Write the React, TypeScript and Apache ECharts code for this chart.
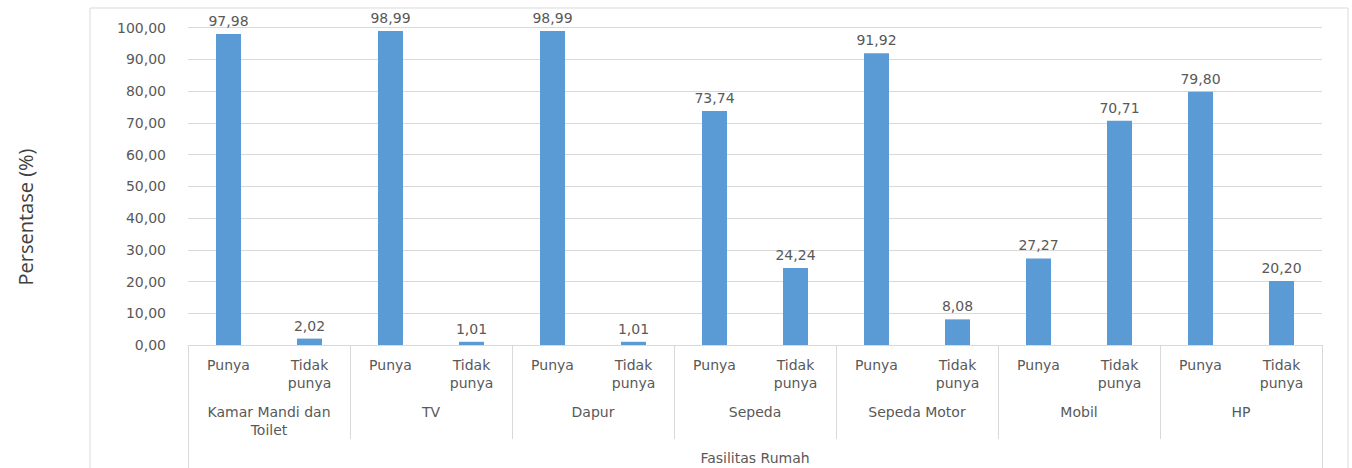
import React, { useEffect, useRef } from "react";
import * as echarts from "echarts";

// Household facilities: share of respondents who own / do not own each item
const answerLabels = [
  "Punya", "Tidak\npunya",
  "Punya", "Tidak\npunya",
  "Punya", "Tidak\npunya",
  "Punya", "Tidak\npunya",
  "Punya", "Tidak\npunya",
  "Punya", "Tidak\npunya",
  "Punya", "Tidak\npunya",
];
const facilityGroups = [
  "Kamar Mandi dan\nToilet",
  "TV",
  "Dapur",
  "Sepeda",
  "Sepeda Motor",
  "Mobil",
  "HP",
];
const axisTitle = ["Fasilitas Rumah"];
const percentages = [
  97.98, 2.02,
  98.99, 1.01,
  98.99, 1.01,
  73.74, 24.24,
  91.92, 8.08,
  27.27, 70.71,
  79.8, 20.2,
];
const yTitle = "Persentase (%)";

const fmt = (v: number) => v.toFixed(2).replace(".", ",");

const TEXT = "#595959";
const LINE = "#d9d9d9";
const FONT = "DejaVu Sans";

export default function App() {
  const ref = useRef<HTMLDivElement>(null);

  useEffect(() => {
    if (!ref.current) return;
    const chart = echarts.init(ref.current, undefined, { renderer: "svg" });
    chart.setOption({
      animation: false,
      backgroundColor: "#ffffff",
      grid: { left: 188, right: 30, top: 27.7, bottom: 123 },
      graphic: [
        {
          type: "rect",
          shape: { x: 90, y: 8, width: 1258, height: 520 },
          style: { fill: "none", stroke: LINE, lineWidth: 1 },
          silent: true,
        },
        {
          type: "text",
          x: 25,
          y: 217,
          rotation: Math.PI / 2,
          style: {
            text: yTitle,
            fontFamily: "Open Sans",
            fontSize: 20,
            fill: "#404040",
            align: "center",
            verticalAlign: "middle",
          },
          silent: true,
        },
      ],
      xAxis: [
        {
          type: "category",
          data: answerLabels,
          position: "bottom",
          axisLine: { show: true, lineStyle: { color: LINE } },
          axisTick: { show: false },
          axisLabel: {
            interval: 0,
            margin: 11,
            color: TEXT,
            fontFamily: FONT,
            fontSize: 14,
            lineHeight: 18,
          },
        },
        {
          type: "category",
          data: facilityGroups,
          position: "bottom",
          axisLine: { show: false },
          axisTick: { show: true, length: 94, lineStyle: { color: LINE } },
          axisLabel: {
            interval: 0,
            margin: 58,
            color: TEXT,
            fontFamily: FONT,
            fontSize: 14,
            lineHeight: 18,
          },
        },
        {
          type: "category",
          data: axisTitle,
          position: "bottom",
          axisLine: { show: false },
          axisTick: { show: true, length: 140, lineStyle: { color: LINE } },
          axisLabel: {
            interval: 0,
            margin: 104,
            color: TEXT,
            fontFamily: FONT,
            fontSize: 14,
            lineHeight: 18,
          },
        },
      ],
      yAxis: {
        type: "value",
        min: 0,
        max: 100,
        interval: 10,
        axisLine: { show: false },
        axisTick: { show: false },
        splitLine: { lineStyle: { color: LINE } },
        axisLabel: {
          margin: 22,
          color: TEXT,
          fontFamily: FONT,
          fontSize: 14,
          formatter: (v: number) => fmt(v),
        },
      },
      series: [
        {
          type: "bar",
          xAxisIndex: 0,
          data: percentages,
          barWidth: 25,
          itemStyle: { color: "#5b9bd5" },
          label: {
            show: true,
            position: "top",
            distance: 6,
            color: TEXT,
            fontFamily: FONT,
            fontSize: 14,
            formatter: (p: any) => fmt(p.value),
          },
        },
      ],
    });
    return () => chart.dispose();
  }, []);

  return (
    <div
      ref={ref}
      style={{ position: "absolute", left: 0, top: 0, width: 1352, height: 468 }}
    />
  );
}
